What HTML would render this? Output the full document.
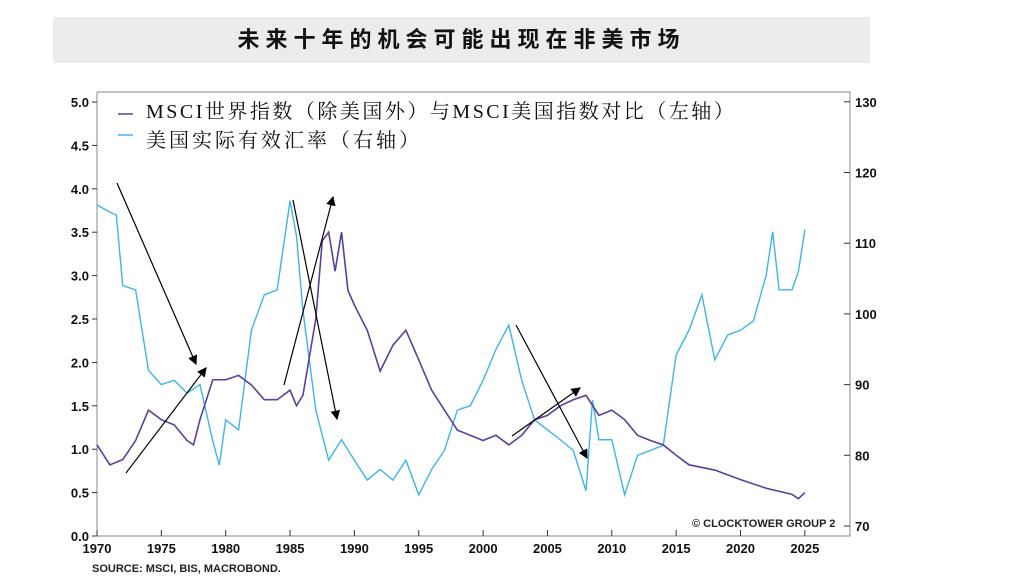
<!DOCTYPE html>
<html><head><meta charset="utf-8"><style>
body{margin:0;background:#fff;width:1024px;height:579px;overflow:hidden;font-family:"Liberation Sans","Noto Sans CJK SC",sans-serif}
#title{position:absolute;left:53px;top:17px;width:817px;height:46px;background:#ececec;text-align:center;line-height:46px;font-size:22px;font-weight:bold;letter-spacing:6px;color:#111}
svg{position:absolute;left:0;top:0}
</style></head><body>
<div id="title">未来十年的机会可能出现在非美市场</div>
<svg id="chart" width="1024" height="579"></svg>
<script>
const purpleYears=[1970,1971,1972,1973,1974,1975,1976,1977,1977.5,1978,1979,1980,1981,1982,1983,1984,1985,1985.5,1986,1987,1987.5,1988,1988.5,1989,1989.5,1990,1991,1992,1993,1994,1995,1996,1997,1998,2000,2001,2002,2003,2004,2005,2006,2007,2008,2009,2010,2011,2012,2013,2014,2015,2016,2018,2020,2022,2024,2024.5,2025];
const purpleValues=[1.05,0.82,0.88,1.1,1.45,1.34,1.28,1.1,1.05,1.34,1.8,1.8,1.85,1.74,1.57,1.57,1.68,1.5,1.62,2.5,3.4,3.5,3.05,3.5,2.83,2.66,2.37,1.9,2.2,2.37,2.03,1.68,1.45,1.22,1.1,1.16,1.05,1.16,1.34,1.39,1.5,1.57,1.62,1.39,1.45,1.34,1.16,1.1,1.05,0.93,0.82,0.76,0.65,0.55,0.48,0.43,0.5];
const blueYears=[1970,1971,1971.5,1972,1973,1974,1975,1976,1977,1978,1979,1979.5,1980,1981,1982,1983,1984,1985,1985.5,1986,1987,1988,1989,1990,1991,1992,1993,1994,1995,1996,1997,1998,1999,2000,2001,2002,2003,2004,2005,2006,2007,2008,2008.5,2009,2010,2011,2012,2013,2014,2015,2016,2017,2018,2019,2020,2021,2022,2022.5,2023,2024,2024.5,2025];
const blueValues=[115.4,114.4,114,104,103.4,92,90,90.6,88.8,90,82,78.6,85,83.6,97.7,102.7,103.4,116,111,100.5,86.4,79.3,82.2,79.3,76.5,78,76.5,79.3,74.4,78,80.7,86.4,87,90.6,95,98.4,90.6,85,83.6,82.2,80.7,75,87.8,82.2,82.2,74.4,80,80.7,81.4,94.2,97.7,102.7,93.5,97,97.7,99,105.5,111.6,103.4,103.4,106,111.9];
const xTicks=[1970,1975,1980,1985,1990,1995,2000,2005,2010,2015,2020,2025];
const leftTicks=[0,0.5,1,1.5,2,2.5,3,3.5,4,4.5,5];
const rightTicks=[70,80,90,100,110,120,130];

const svg=document.getElementById('chart');
const NS='http://www.w3.org/2000/svg';
const X=y=>97+(y-1970)*12.87;
const YL=v=>536-v*86.8;
const YR=v=>526-(v-70)*7.07;
function mk(t,a,p){const e=document.createElementNS(NS,t);for(const k in a)e.setAttribute(k,a[k]);(p||svg).appendChild(e);return e;}

let e;
e=mk('path',{d:'M97,92 V536 H850 V92 H97',fill:'none',stroke:'#888','stroke-width':1});



xTicks.forEach(t=>{
  mk('line',{x1:X(t),x2:X(t),y1:536,y2:530,stroke:'#333'});
  e=mk('text',{x:X(t),y:553,'text-anchor':'middle','font-size':13,'font-weight':'bold',fill:'#111'});
  e.textContent=t;
  
  
});
leftTicks.forEach(t=>{
  mk('line',{x1:92,x2:97,y1:YL(t),y2:YL(t),stroke:'#333'});
  e=mk('text',{x:89,y:YL(t)+5,'text-anchor':'end','font-size':13,'font-weight':'bold',fill:'#111'});
  e.textContent=t.toFixed(1);
  
  
});
rightTicks.forEach(t=>{
  mk('line',{x1:844,x2:850,y1:YR(t),y2:YR(t),stroke:'#333'});
  e=mk('text',{x:855,y:YR(t)+5,'font-size':13,'font-weight':'bold',fill:'#111'});
  e.textContent=t;
  
  
});

e=mk('polyline',{points:blueYears.map((y,i)=>X(y)+','+YR(blueValues[i])).join(' '),fill:'none',stroke:'#3db4ee','stroke-width':1.4});


e=mk('polyline',{points:purpleYears.map((y,i)=>X(y)+','+YL(purpleValues[i])).join(' '),fill:'none',stroke:'#5b3f9e','stroke-width':1.6});



mk('defs',{}).innerHTML='<marker id="ah" markerWidth="8" markerHeight="8" refX="7" refY="4" orient="auto"><path d="M0,0 L8,4 L0,8 z" fill="#000"/></marker>';
[[117,183,196,364],[126,473,206,368],[284,385,333,197],[293,200,337,419],[516,325,587,458],[512,436,580,388]].forEach(a=>{
  e=mk('line',{x1:a[0],y1:a[1],x2:a[2],y2:a[3],stroke:'#000','stroke-width':1.2,'marker-end':'url(#ah)'});
  
  
});

e=mk('line',{x1:118,x2:133,y1:114,y2:114,stroke:'#5b3f9e','stroke-width':1.5});


e=mk('text',{x:146,y:118,'font-size':20,'letter-spacing':2.5,fill:'#111','font-family':'"Liberation Serif","Noto Serif CJK SC",serif'});
e.textContent='MSCI世界指数（除美国外）与MSCI美国指数对比（左轴）';


e=mk('line',{x1:118,x2:133,y1:135,y2:135,stroke:'#3db4ee','stroke-width':1.5});


e=mk('text',{x:146,y:147,'font-size':20,'letter-spacing':3,fill:'#111','font-family':'"Liberation Serif","Noto Serif CJK SC",serif'});
e.textContent='美国实际有效汇率（右轴）';



e=mk('text',{x:692,y:527,'font-size':11,'font-weight':'bold',fill:'#222'});
e.textContent='© CLOCKTOWER GROUP 2';


e=mk('text',{x:92,y:572,'font-size':11,'font-weight':'bold',fill:'#222'});
e.textContent='SOURCE: MSCI, BIS, MACROBOND.';


</script>
</body></html>
